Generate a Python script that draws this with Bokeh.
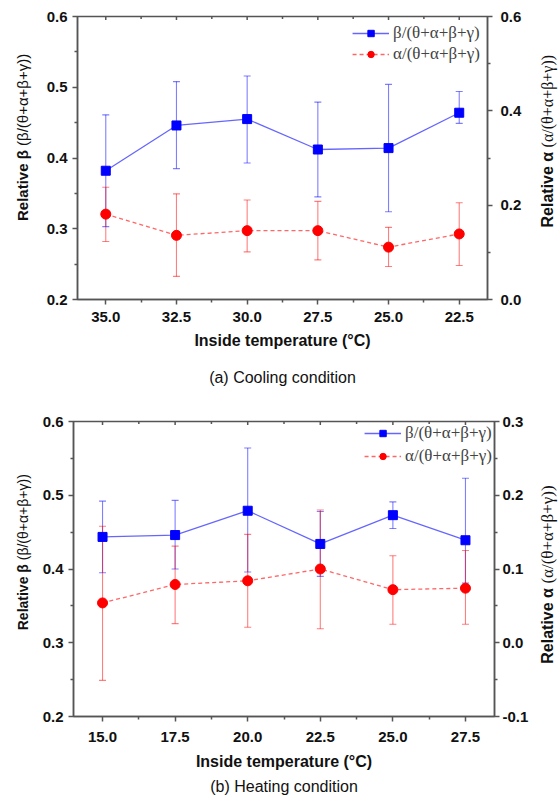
import math
from bokeh.plotting import figure
from bokeh.models import (Range1d, LinearAxis, FixedTicker, PrintfTickFormatter, Whisker,
                          TeeHead, ColumnDataSource, Legend, LegendItem, Title, Label)
from bokeh.layouts import column, row
from bokeh.embed import file_html
from bokeh.resources import INLINE

# ---------------- data ----------------
cool_temp = [35.0, 32.5, 30.0, 27.5, 25.0, 22.5]
cool_beta = [0.382, 0.446, 0.455, 0.412, 0.414, 0.464]
cool_beta_hi = [0.461, 0.508, 0.516, 0.479, 0.504, 0.494]
cool_beta_lo = [0.303, 0.385, 0.393, 0.345, 0.324, 0.449]
cool_alpha = [0.181, 0.136, 0.146, 0.146, 0.111, 0.139]
cool_alpha_hi = [0.238, 0.224, 0.211, 0.208, 0.153, 0.205]
cool_alpha_lo = [0.123, 0.049, 0.101, 0.084, 0.070, 0.072]

heat_temp = [15.0, 17.5, 20.0, 22.5, 25.0, 27.5]
heat_beta = [0.4435, 0.446, 0.479, 0.434, 0.473, 0.439]
heat_beta_hi = [0.492, 0.493, 0.564, 0.478, 0.491, 0.523]
heat_beta_lo = [0.395, 0.400, 0.396, 0.390, 0.455, 0.381]
heat_alpha = [0.054, 0.079, 0.084, 0.100, 0.072, 0.074]
heat_alpha_hi = [0.158, 0.131, 0.147, 0.180, 0.118, 0.125]
heat_alpha_lo = [-0.051, 0.026, 0.021, 0.019, 0.025, 0.025]

cool_xticks = [35.0, 32.5, 30.0, 27.5, 25.0, 22.5]
heat_xticks = [15.0, 17.5, 20.0, 22.5, 25.0, 27.5]
left_ticks = [0.2, 0.3, 0.4, 0.5, 0.6]
cool_right_ticks = [0.0, 0.2, 0.4, 0.6]
heat_right_ticks = [-0.1, 0.0, 0.1, 0.2, 0.3]

label_beta = "β/(θ+α+β+γ)"
label_alpha = "α/(θ+α+β+γ)"
ylabel_left = ("Relative β ", "(β/(θ+α+β+γ))")
ylabel_right = ("Relative α ", "(α/(θ+α+β+γ))")
xlabel = "Inside temperature (°C)"

AXC = "#555555"
BLUE = "#0000FF"
RED = "#FF0000"
TXT = "#111111"


def style_axis(ax, ticks, minor, standoff=5):
    ax.ticker = FixedTicker(ticks=ticks, minor_ticks=minor)
    ax.formatter = PrintfTickFormatter(format="%.1f")
    ax.axis_line_color = AXC
    ax.axis_line_width = 1.5
    ax.major_tick_line_color = AXC
    ax.major_tick_line_width = 1.5
    ax.minor_tick_line_color = AXC
    ax.minor_tick_line_width = 1.5
    ax.major_tick_out = 5
    ax.major_tick_in = 0
    ax.minor_tick_out = 3
    ax.minor_tick_in = 0
    ax.major_label_text_font = "Liberation Sans"
    ax.major_label_text_font_style = "bold"
    ax.major_label_text_font_size = "15px"
    ax.major_label_text_color = TXT
    ax.major_label_standoff = standoff


def label_strip(width, height, cx, split_y, parts, size_a, font_b, size_b):
    """A narrow figure holding a rotated, two-font axis title."""
    f = figure(width=width, height=height, x_range=Range1d(0, width),
               y_range=Range1d(0, height), x_axis_type=None, y_axis_type=None,
               output_backend="svg", toolbar_location=None, min_border=0)
    f.grid.visible = False
    f.outline_line_color = None
    f.background_fill_color = "white"
    f.border_fill_color = "white"
    f.add_layout(Label(x=cx, y=height - split_y, text=parts[0], angle=math.pi / 2,
                       text_align="right", text_baseline="middle",
                       text_font="Liberation Sans", text_font_style="bold",
                       text_font_size=size_a, text_color=TXT))
    f.add_layout(Label(x=cx, y=height - split_y, text=parts[1], angle=math.pi / 2,
                       text_align="left", text_baseline="middle",
                       text_font=font_b, text_font_style="normal",
                       text_font_size=size_b, text_color=TXT))
    return f


def make_panel(temps, xticks, xr, yl_range, yr_range, yr_ticks, yr_minor,
               beta, bhi, blo, alpha, ahi, alo, caption, width, height, borders,
               tick_so, xlab_so, cap_so, right_so,
               legend_spacing, legend_margin, legend_padding):
    p = figure(width=width, height=height, x_range=Range1d(*xr), y_range=Range1d(*yl_range),
               output_backend="svg", toolbar_location=None,
               min_border_left=borders[0], min_border_right=borders[1],
               min_border_top=borders[2], min_border_bottom=borders[3])
    p.extra_y_ranges = {"right": Range1d(*yr_range)}
    p.grid.visible = False
    p.outline_line_color = AXC
    p.outline_line_width = 1.5
    p.outline_line_alpha = 1.0
    p.background_fill_color = "white"
    p.border_fill_color = "white"

    xminor = [(a + b) / 2 for a, b in zip(xticks[:-1], xticks[1:])]
    xa = p.xaxis[0]
    style_axis(xa, xticks, xminor, standoff=tick_so)
    xa.axis_label = xlabel
    xa.axis_label_text_font = "Liberation Sans"
    xa.axis_label_text_font_style = "bold"
    xa.axis_label_text_font_size = "16px"
    xa.axis_label_text_color = TXT
    xa.axis_label_standoff = xlab_so

    left_minor = [0.25, 0.35, 0.45, 0.55]
    style_axis(p.yaxis[0], left_ticks, left_minor, standoff=5)

    rax = LinearAxis(y_range_name="right")
    style_axis(rax, yr_ticks, yr_minor, standoff=right_so)
    p.add_layout(rax, "right")

    # small inward ticks along the top border, at the x tick positions
    top = yl_range[1]
    p.scatter(xticks, [top] * len(xticks), marker="dash", angle=math.pi / 2, size=7,
              line_color=AXC, line_width=1.5)
    p.scatter(xminor, [top] * len(xminor), marker="dash", angle=math.pi / 2, size=5,
              line_color=AXC, line_width=1.5)

    src_b = ColumnDataSource(dict(x=temps, y=beta, hi=bhi, lo=blo))
    src_a = ColumnDataSource(dict(x=temps, y=alpha, hi=ahi, lo=alo))

    def heads(c):
        return dict(upper_head=TeeHead(size=7, line_color=c, line_alpha=0.5, line_width=1.1),
                    lower_head=TeeHead(size=7, line_color=c, line_alpha=0.5, line_width=1.1))

    wb = Whisker(source=src_b, base="x", upper="hi", lower="lo", dimension="height",
                 line_color=BLUE, line_alpha=0.5, line_width=1.1, **heads(BLUE))
    wa = Whisker(source=src_a, base="x", upper="hi", lower="lo", dimension="height",
                 y_range_name="right", line_color=RED, line_alpha=0.5, line_width=1.1,
                 **heads(RED))
    p.add_layout(wb)
    p.add_layout(wa)

    lb = p.line("x", "y", source=src_b, line_color=BLUE, line_alpha=0.6, line_width=1.3)
    sb = p.scatter("x", "y", source=src_b, marker="square", size=9, fill_color=BLUE,
                   line_color=BLUE)
    la = p.line("x", "y", source=src_a, y_range_name="right", line_color=RED,
                line_alpha=0.6, line_width=1.3, line_dash="4 3")
    sa = p.scatter("x", "y", source=src_a, y_range_name="right", marker="circle", size=10,
                   fill_color=RED, line_color=RED)

    legend = Legend(items=[LegendItem(label=label_beta, renderers=[lb, sb]),
                           LegendItem(label=label_alpha, renderers=[la, sa])],
                    location="top_right", background_fill_alpha=0, border_line_alpha=0,
                    label_text_font="Liberation Serif", label_text_font_size="17px",
                    glyph_width=37, glyph_height=16, label_height=16,
                    spacing=legend_spacing, padding=legend_padding, margin=legend_margin,
                    label_standoff=4)
    p.add_layout(legend)

    p.add_layout(Title(text=caption, align="center", text_font="Liberation Sans",
                       text_font_style="normal", text_font_size="16px",
                       text_color=TXT, standoff=cap_so), "below")
    return p


LW, RW = 34, 20          # widths of the side strips holding the y-axis titles
MW = 558 - LW - RW       # width of each main plot

p1 = make_panel(cool_temp, cool_xticks, (36.0, 21.5), (0.2, 0.6), (0.0, 0.6),
                cool_right_ticks, [0.1, 0.3, 0.5],
                cool_beta, cool_beta_hi, cool_beta_lo, cool_alpha, cool_alpha_hi, cool_alpha_lo,
                "(a) Cooling condition", MW, 400, (77 - LW, 558 - RW - 487, 16, 100),
                7, 7, 30, 8, 1, 3, 4)
l1 = label_strip(LW, 400, 21.5, 183, ylabel_left, "15px", "Liberation Sans", "15px")
r1 = label_strip(RW, 400, 9, 185, ylabel_right, "16px", "Liberation Serif", "16px")

p2 = make_panel(heat_temp, heat_xticks, (14.0, 28.5), (0.2, 0.6), (-0.1, 0.3),
                heat_right_ticks, [-0.05, 0.05, 0.15, 0.25],
                heat_beta, heat_beta_hi, heat_beta_lo, heat_alpha, heat_alpha_hi, heat_alpha_lo,
                "(b) Heating condition", MW, 404, (73 - LW, 558 - RW - 494, 21, 88),
                10, 8, 7, 3, 3, 0, 2)
l2 = label_strip(LW, 404, 22, 190, ylabel_left, "14px", "Liberation Sans", "14px")
r2 = label_strip(RW, 404, 9, 222, ylabel_right, "16px", "Liberation Serif", "17px")

layout = column(row(l1, p1, r1, spacing=0), row(l2, p2, r2, spacing=0), spacing=0)
open("out.html", "w").write(file_html(layout, INLINE))
